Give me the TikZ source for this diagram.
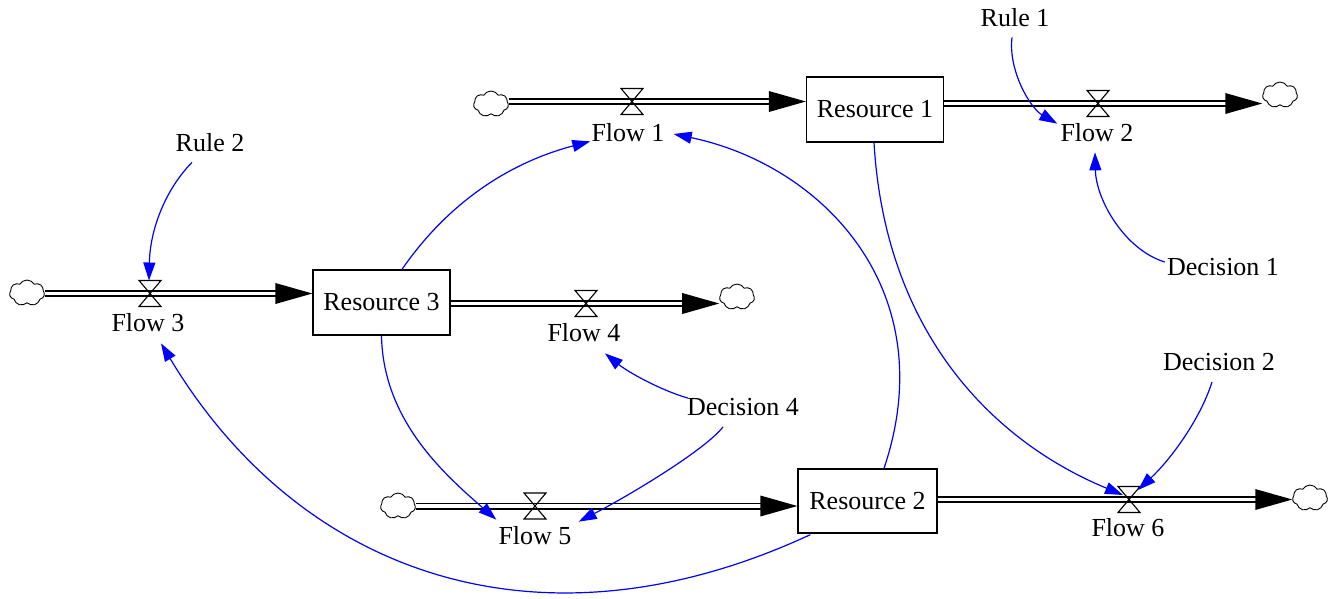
\documentclass[tikz,border=0pt]{standalone}
\usepackage{fontspec}
\newfontfamily\tnr{Liberation Serif}
\usetikzlibrary{arrows.meta,shapes.symbols,calc}
\tikzset{
  stock/.style={draw,line width=1.3pt,minimum width=137pt,minimum height=65pt,inner sep=0pt},
  lbl/.style={inner sep=0pt},
  cloudnode/.style={cloud,cloud puffs=7,cloud puff arc=120,aspect=1.35,draw,line width=0.9pt,minimum width=35pt,minimum height=26pt,inner sep=0pt},
  pipe/.style={draw,line width=1.7pt,double=white,double distance=3.6pt,shorten >=20pt},
  link/.style={draw=blue,line width=1.2pt,-{Triangle[length=18pt,width=12pt]}},
  valvepic/.pic={\draw[line width=1.1pt] (-11,-13) -- (11,-13) -- (-11,13) -- (11,13) -- cycle;},
  headpic/.pic={\fill (0,0) -- (-37,-10.5) -- (-37,10.5) -- cycle;}
}
\begin{document}
\begin{tikzpicture}[x=1pt,y=-1pt,font=\tnr\fontsize{26}{31}\selectfont]
\useasboundingbox (0,0) rectangle (1332,598);

% valves
\coordinate (v1) at (632,101.5);
\coordinate (v2) at (1098,103.5);
\coordinate (v3) at (150,293.5);
\coordinate (v4) at (586,303.5);
\coordinate (v5) at (535,506);
\coordinate (v6) at (1129,499.5);

% stocks
\node[stock] (r1) at (875,109.5) {Resource 1};
\node[stock] (r3) at (381.5,302.5) {Resource 3};
\node[stock,minimum width=139pt,minimum height=64pt] (r2) at (867.5,501) {Resource 2};

% clouds
\node[cloudnode] (c1) at (491,104) {};
\node[cloudnode] (c2) at (1280,95) {};
\node[cloudnode] (c3) at (27,293) {};
\node[cloudnode] (c4) at (737,297) {};
\node[cloudnode] (c5) at (398,506) {};
\node[cloudnode] (c6) at (1310,498) {};

% labels
\node[lbl] (f1) at (628,133) {Flow 1};
\node[lbl] (f2) at (1097,133) {Flow 2};
\node[lbl] (f3) at (148,323) {Flow 3};
\node[lbl] (f4) at (584,333) {Flow 4};
\node[lbl] (f5) at (535,536) {Flow 5};
\node[lbl] (f6) at (1128,528) {Flow 6};
\node[lbl] (rule1) at (1015,18) {Rule 1};
\node[lbl] (rule2) at (210,143) {Rule 2};
\node[lbl] (dec1) at (1223,267) {Decision 1};
\node[lbl] (dec2) at (1219,362) {Decision 2};
\node[lbl] (dec4) at (743,407) {Decision 4};

% pipes
\draw[pipe] (c1.east |- v1) -- (r1.west |- v1);
\pic at (r1.west |- v1) {headpic};
\draw[pipe] (r1.east |- v2) -- (c2.west |- v2);
\pic at (c2.west |- v2) {headpic};
\draw[pipe] (c3.east |- v3) -- (r3.west |- v3);
\pic at (r3.west |- v3) {headpic};
\draw[pipe] (r3.east |- v4) -- (c4.west |- v4);
\pic at (c4.west |- v4) {headpic};
\draw[pipe] (c5.east |- v5) -- (r2.west |- v5);
\pic at (r2.west |- v5) {headpic};
\draw[pipe] (r2.east |- v6) -- (c6.west |- v6);
\pic at (c6.west |- v6) {headpic};

\foreach \v in {v1,v2,v3,v4,v5,v6} \pic at (\v) {valvepic};

% information links
\draw[link] ($(r3.north)+(20.5,0)$) .. controls (450,200) and (512,162) .. ($(f1.south west)+(-1,-1)$);
\draw[link] ($(r2.north)+(16.5,0)$) .. controls (944,290) and (822,165) .. ($(f1.east)+(9,1)$);
\draw[link] ($(r1.south)+(-1,0)$) .. controls (885,330) and (990,440) .. ($(v6)+(-6,-4.5)$);
\draw[link] ($(r3.south)+(0,0)$) .. controls (383,420) and (444,474) .. ($(f5.north west)+(-2,-7)$);
\draw[link] ($(r2.south west)+(13,1)$) .. controls (540,660) and (300,575) .. ($(f3.south)+(13,11)$);
\draw[link] ($(dec4.north west)+(1,0)$) .. controls (660,390) and (628,372) .. ($(f4.south)+(21,11)$);
\draw[link] ($(dec4.south)+(-20,11)$) .. controls (705,450) and (630,495) .. ($(f5.north east)+(7,-5)$);
\draw[link] ($(rule1.south)+(-3,10)$) .. controls (1008,70) and (1030,108) .. ($(f2.north west)+(-3,0)$);
\draw[link] ($(rule2.south)+(-18,10)$) .. controls (165,190) and (150,230) .. ($(v3)+(-1,-13)$);
\draw[link] ($(dec1.west)+(-2,-5)$) .. controls (1125,250) and (1096,200) .. ($(f2.south)+(-2,10)$);
\draw[link] ($(dec2.south)+(-7,11)$) .. controls (1200,420) and (1170,460) .. ($(v6)+(9,-9.5)$);
\end{tikzpicture}
\end{document}
